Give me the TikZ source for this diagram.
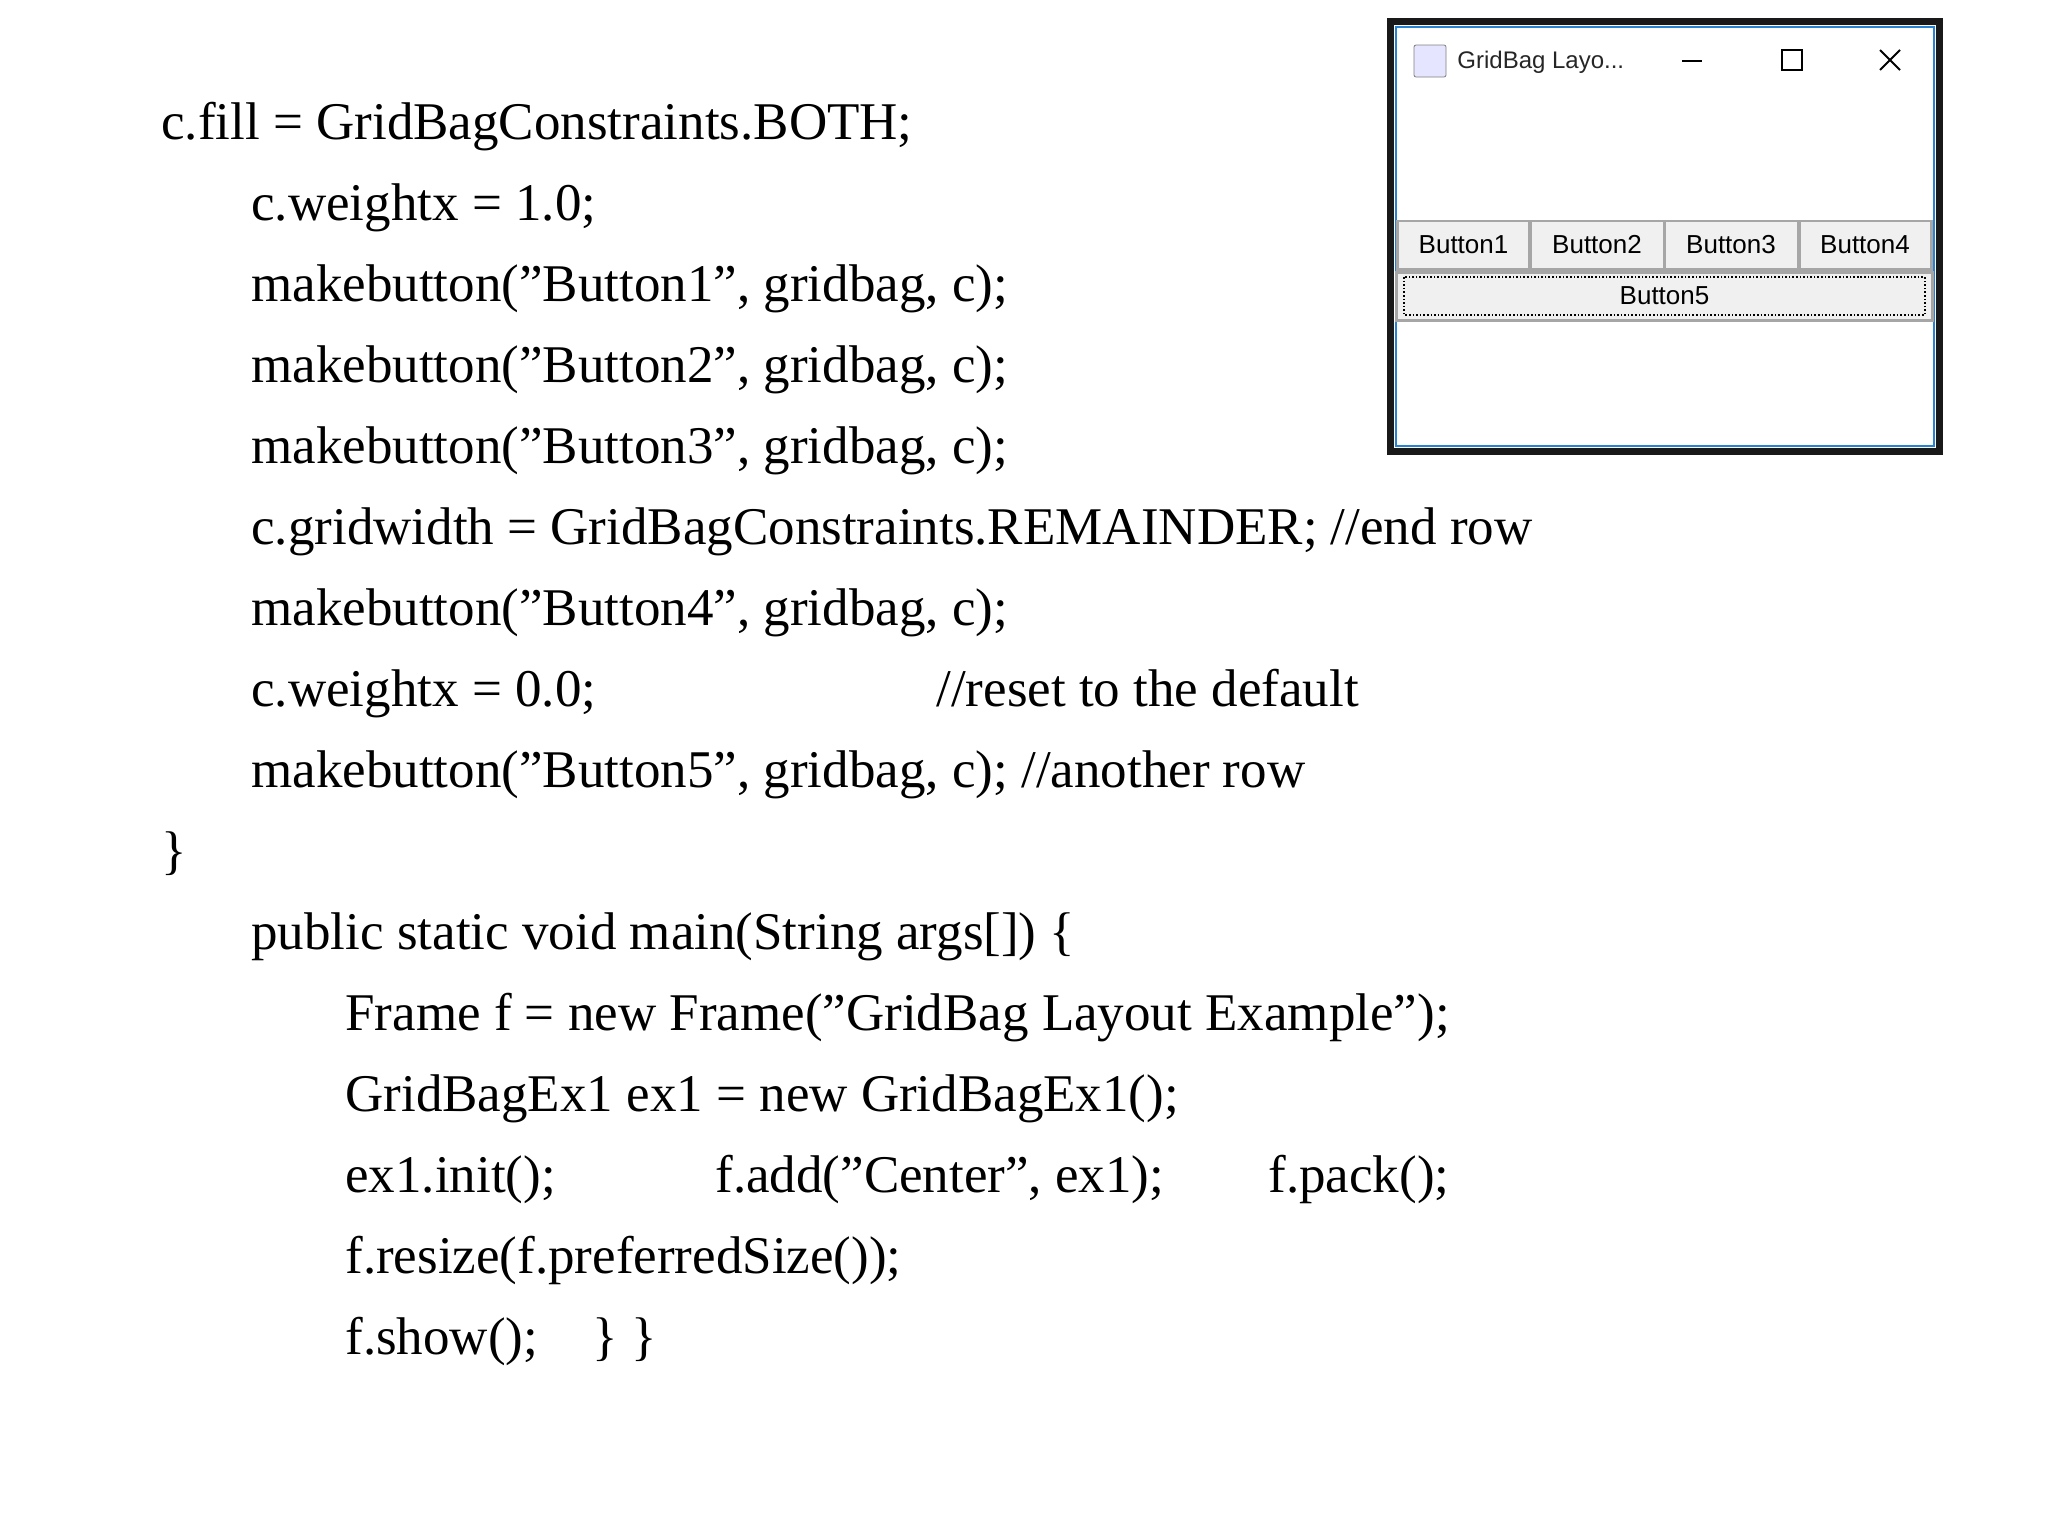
\documentclass[tikz,border=0pt]{standalone}
\usepackage{fontspec}
\setmainfont{Liberation Serif}
\newfontfamily\uifont{Liberation Sans}
\newcommand{\qq}{\char"22\relax}
\begin{document}
\begin{tikzpicture}[x=0.5bp,y=-0.5bp,
  code/.style={anchor=base west,inner sep=0pt,font=\fontsize{26.5bp}{30bp}\selectfont},
  btn/.style={draw=gray!70,fill=gray!12,line width=1.5pt,inner sep=0pt,font=\uifont\fontsize{13bp}{15bp}\selectfont}]
\useasboundingbox (0,0) rectangle (2048,1536);
\fill[white] (0,0) rectangle (2048,1536);
% code lines
\def\a{161}\def\b{251}\def\c{345}
\node[code] (l1) at (\a,139) {c.fill = GridBagConstraints.BOTH;};
\node[code] (l2) at (\b,220) {c.weightx = 1.0;};
\node[code] (l3) at (\b,301) {makebutton(\qq Button1\qq, gridbag, c);};
\node[code] (l4) at (\b,382) {makebutton(\qq Button2\qq, gridbag, c);};
\node[code] (l5) at (\b,463) {makebutton(\qq Button3\qq, gridbag, c);};
\node[code] (l6) at (\b,544) {c.gridwidth = GridBagConstraints.REMAINDER; //end row};
\node[code] (l7) at (\b,625) {makebutton(\qq Button4\qq, gridbag, c);};
\node[code] (l8) at (\b,706) {c.weightx = 0.0;};
\node[code] (l8b) at (936,706) {//reset to the default};
\node[code] (l9) at (\b,787) {makebutton(\qq Button5\qq, gridbag, c); //another row};
\node[code] (l10) at (\a,868) {\}};
\node[code] (l11) at (\b,949) {public static void main(String args[]) \{};
\node[code] (l12) at (\c,1030) {Frame f = new Frame(\qq GridBag Layout Example\qq);};
\node[code] (l13) at (\c,1111) {GridBagEx1 ex1 = new GridBagEx1();};
\node[code] (l14) at (\c,1192) {ex1.init();};
\node[code] (l14b) at (715,1192) {f.add(\qq Center\qq, ex1);};
\node[code] (l14c) at (1268,1192) {f.pack();};
\node[code] (l15) at (\c,1273) {f.resize(f.preferredSize());};
\node[code] (l16) at (\c,1354) {f.show();};
\node[code] (l16b) at (592,1354) {\} \}};
% window
\begin{scope}[shift={(-16,0)}]
\fill[black!90] (1403,18) rectangle (1959,455);
\fill[white] (1410,25) rectangle (1952,448);
\draw[draw={rgb,255:red,40;green,130;blue,210},line width=1.2pt] (1412,27) rectangle (1950,446);
\node[draw=gray,fill=blue!10,minimum size=16bp,inner sep=0pt,rounded corners=1pt] (icon) at (1446,61) {};
\node[anchor=west,inner sep=0pt,font=\uifont\fontsize{12bp}{14bp}\selectfont,text=black!85] (title) at (1473,62) {GridBag Layo...};
\draw[line width=1pt] (1698,61) -- (1718,61);
\node[draw,line width=1pt,minimum size=10bp,inner sep=0pt] (maxb) at (1808,60) {};
\draw[line width=1pt] (1896,50) -- (1916,70) (1896,70) -- (1916,50);
\node[btn,minimum width=66bp,minimum height=24bp] (b1) at (1479.5,245) {Button1};
\node[btn,minimum width=67bp,minimum height=24bp] (b2) at (1613,245) {Button2};
\node[btn,minimum width=67bp,minimum height=24bp] (b3) at (1747,245) {Button3};
\node[btn,minimum width=66bp,minimum height=24bp] (b4) at (1881,245) {Button4};
\node[btn,minimum width=268bp,minimum height=24bp] (b5) at (1680.5,296) {Button5};
\draw[densely dotted,line width=0.8pt] (1420,277) rectangle (1941,315);
\end{scope}
\end{tikzpicture}
\end{document}
